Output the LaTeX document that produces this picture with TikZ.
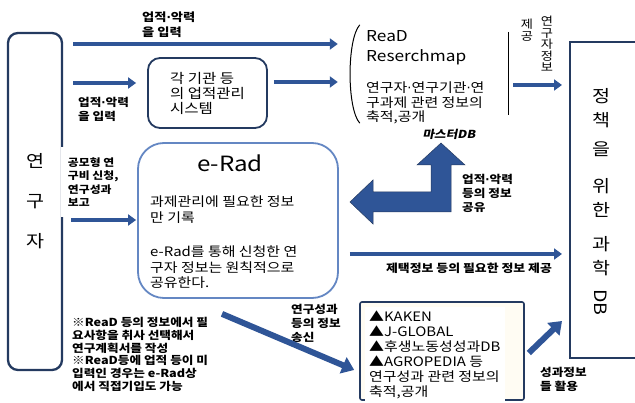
\documentclass[tikz,border=0pt]{standalone}
\usepackage{fontspec}
\setmainfont{Noto Sans CJK KR}[FakeStretch=1.15]
\newfontfamily\slfont{Noto Sans CJK KR}[FakeStretch=1.15,FakeSlant=0.2]
\newfontfamily\dotfont{DejaVu Sans}
\usetikzlibrary{positioning,arrows.meta,calc}
\definecolor{arrowc}{RGB}{47,85,151}
\definecolor{navybrd}{RGB}{36,58,96}
\definecolor{eradbrd}{RGB}{100,135,195}
\definecolor{kakfill}{RGB}{255,252,243}
\newcommand\mdot{{\dotfont ·}}

\begin{document}
\begin{tikzpicture}[x=1pt, y=-1pt,
  >={Triangle[length=8pt,width=11pt]},
  every node/.style={inner sep=0pt},
  lab/.style    ={font=\fontsize{11}{14}\selectfont\bfseries, align=left, anchor=north west},
  body/.style   ={font=\fontsize{13}{15}\selectfont, align=left},
  flow/.style   ={->, line width=4pt, arrowc},
  bigflow/.style={-{Triangle[length=12pt,width=17pt]}, line width=6pt, arrowc},
  navybox/.style={draw=navybrd, line width=2.3pt},
]
\useasboundingbox (0,0) rectangle (635,403);

%% researcher (left) and science DB (right)
\node[navybox, rounded corners=10pt, minimum width=54pt, minimum height=337pt,
      font=\fontsize{17}{40}\selectfont, align=center] (res) at (35,201.5) {연\\구\\자};
\node[navybox, line width=2pt, minimum width=80pt, minimum height=316pt] (db) at (610,200) {};
\node[font=\fontsize{17}{24}\selectfont, align=center, anchor=north] (dbtext) at (601,88)
  {정\\책\\[5pt]을\\[13pt]위\\한\\[10pt]과\\학\\[-9pt]\rotatebox{-90}{DB}};

%% institutional system
\node[draw=navybrd, line width=1.8pt, rounded corners=12pt, fill=white,
      minimum width=119pt, minimum height=70pt, body,
      font=\fontsize{13.5}{15}\selectfont] (sys) at (207.5,93) {각 기관 등\\의 업적관리\\시스템};

%% ReaD / Reserchmap
\node[minimum width=158pt, minimum height=98pt] (read) at (429,74) {};
\node[anchor=north west, align=left, font=\fontsize{15}{20}\selectfont] (readt) at (366,30) {ReaD\\Reserchmap};
\node[body, anchor=north west, font=\fontsize{13}{14.5}\selectfont] (readx) at (366,82)
  {연구자\mdot 연구기관\mdot 연\\구과제 관련 정보의\\축적,공개};
\draw[line width=1pt] ($(read.north west)+(10,0)$) .. controls ($(read.west)+(-3,-35)$) and ($(read.west)+(-3,35)$) .. ($(read.south west)+(10,0)$);
\draw[line width=1pt] ($(read.north east)+(0,7)$) -- ($(read.south east)+(0,-8)$);

\node[anchor=north, align=center, font=\fontsize{11.5}{11.5}\selectfont] (prov1) at (547,16) {연\\구\\자\\정\\보};
\node[anchor=north, align=center, font=\fontsize{11.5}{11.5}\selectfont] (prov2) at (527,19) {제\\공};

%% e-Rad
\node[draw=eradbrd, line width=1.8pt, rounded corners=26pt, minimum width=200pt, minimum height=155pt] (erad) at (238,220.5) {};
\node[font=\fontsize{21}{21}\selectfont] (eradt) at (230,163) {e-Rad};
\node[body, anchor=north west, font=\fontsize{13}{15.5}\selectfont] (eradx) at (150,196)
  {과제관리에 필요한 정보\\만 기록\\[19pt]e-Rad를 통해 신청한 연\\구자 정보는 원칙적으로\\공유한다.};

%% result databases
\node[draw=navybrd, line width=1.6pt, fill=kakfill, rounded corners=2pt,
      minimum width=164pt, minimum height=98pt] (kaken) at (442,351) {};
\node[body, anchor=north west, fill=white, inner sep=4pt] (kakx) at (365,307)
  {▲KAKEN\\▲J-GLOBAL\\▲후생노동성성과DB\\▲AGROPEDIA 등\\연구성과 관련 정보의\\축적,공개};

%% labels
\node[lab, font=\fontsize{11.5}{15}\selectfont\bfseries] (l1) at (142,12) {업적\mdot 악력\\을 입력};
\node[lab] (l2) at (78,97) {업적\mdot 악력\\을 입력};
\node[lab, fill=white, minimum width=64pt, minimum height=70pt,
      font=\fontsize{10.3}{13.3}\selectfont\bfseries] (l3) at (61,147) {공모형 연\\구비 신청,\\연구성과\\보고};
\node[lab] (l4) at (462,174) {업적\mdot 악력\\등의 정보\\공유};
\node[font=\fontsize{11.2}{14}\selectfont\bfseries] (l5) at (469,268) {제택정보 등의 필요한 정보 제공};
\node[lab] (l6) at (291,304) {연구성과\\등의 정보\\송신};
\node[lab] (l7) at (540,367) {성과정보\\들 활용};
\node[lab, font=\fontsize{11}{12.8}\selectfont\bfseries] (note) at (72,317)
  {※ReaD 등의 정보에서 필\\요사항을 취사 선택해서\\연구계획서를 작성\\※ReaD등에 업적 등이 미\\입력인 경우는 e-Rad상\\에서 직접기입도 가능};
\node[font=\fontsize{11}{12}\selectfont\slfont\bfseries] (master) at (449,134) {마스터DB};

%% arrows
\coordinate (y1) at (0,44);
\coordinate (y2) at (0,83);
\coordinate (y3) at (0,82);
\coordinate (y4) at (0,85);
\coordinate (y5) at (0,220);
\coordinate (y6) at (0,254);
\draw[flow, shorten <=10pt, shorten >=12pt] (res.east |- y1) -- (read.west |- y1);
\draw[flow, shorten <=10pt, shorten >=11pt] (res.east |- y2) -- (sys.west |- y2);
\draw[flow, shorten <=6pt, shorten >=12pt] (sys.east |- y3) -- (read.west |- y3);
\draw[flow, shorten <=5pt, shorten >=7pt] (read.east |- y4) -- (db.west |- y4);
\draw[flow, shorten <=8pt, shorten >=1pt] (res.east |- y5) -- (erad.west |- y5);
\draw[flow, shorten <=11pt, shorten >=7pt] (erad.east |- y6) -- (db.west |- y6);
\draw[bigflow] ($(erad.south)+(-16,15)$) -- ($(kaken.west)+(-5,19)$);
\draw[bigflow] ($(kaken.east)+(4,2)$) -- ($(db.south west)+(-7,-38)$);

%% shared master DB (bent block arrow)
\fill[arrowc, draw=navybrd, line width=0.5pt]
  (441,143) -- (465,165) -- (451,165) -- (451,212) -- (373,212) -- (373,224) -- (350,202)
  -- (373,180) -- (373,192) -- (431,192) -- (431,165) -- (417,165) -- cycle;

\end{tikzpicture}
\end{document}
